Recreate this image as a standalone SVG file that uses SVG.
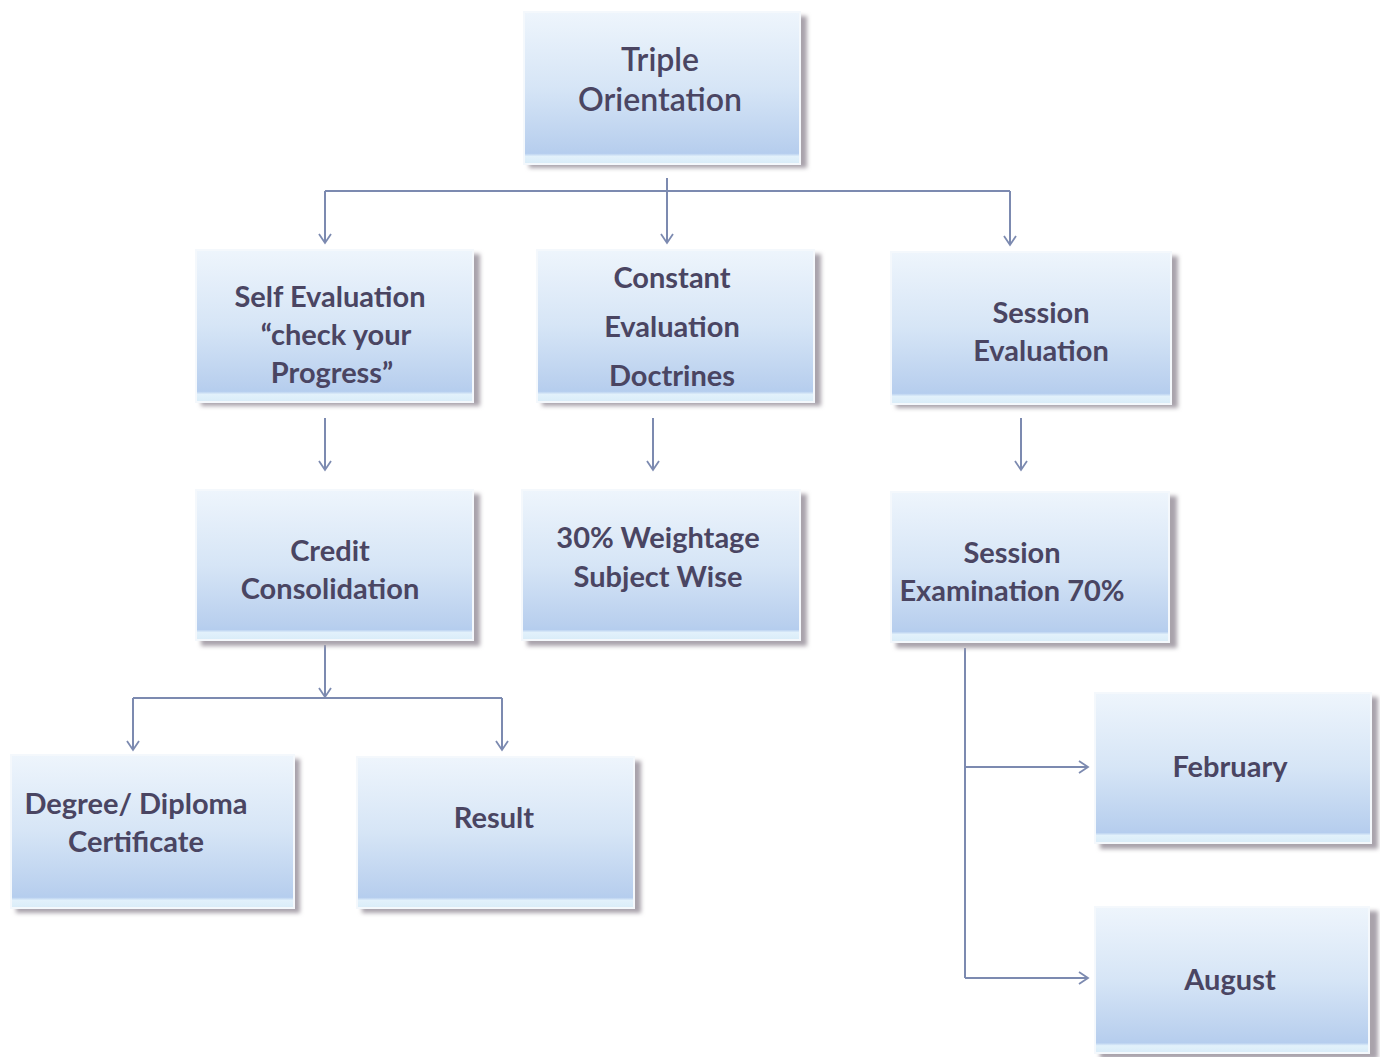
<svg xmlns="http://www.w3.org/2000/svg" width="1380" height="1057" viewBox="0 0 1380 1057">
<style>
.box{fill:url(#g);stroke:#f4f8fc;stroke-width:2}
.sh{fill:#a9a3ab;filter:url(#blur)}
.t{font-family:Lato,"Open Sans","Liberation Sans",sans-serif;font-weight:bold;font-size:29px;fill:#4a4562;text-anchor:middle}
.tt{font-family:Lato,"Open Sans","Liberation Sans",sans-serif;font-weight:600;font-size:32px;fill:#4a4562;text-anchor:middle}
.c{fill:none;stroke:#7c8ab0;stroke-width:2}
</style>
<defs>
<linearGradient id="g" x1="0" y1="0" x2="0" y2="1">
<stop offset="0" stop-color="#eef5fc"/>
<stop offset="0.5" stop-color="#d6e5f6"/>
<stop offset="0.9" stop-color="#b8cfee"/>
<stop offset="0.93" stop-color="#b5cdee"/>
<stop offset="0.95" stop-color="#e2f1fb"/>
<stop offset="1" stop-color="#d9ecf8"/>
</linearGradient>
<filter id="blur" x="-5%" y="-5%" width="110%" height="110%"><feGaussianBlur stdDeviation="2"/></filter>
<marker id="a" markerWidth="14" markerHeight="14" refX="11" refY="7" orient="auto" markerUnits="userSpaceOnUse">
<path d="M2,1 L11,7 L2,13" fill="none" stroke="#7c8ab0" stroke-width="1.8"/>
</marker>
</defs>
<rect width="1380" height="1057" fill="#ffffff"/>
<g id="connectors">
<path class="c" d="M667,178 V243"/>
<path class="c" d="M325,191 H1010"/>
<path class="c" d="M325,191 V243" marker-end="url(#a)"/>
<path class="c" d="M667,191 V243" marker-end="url(#a)"/>
<path class="c" d="M1010,191 V245" marker-end="url(#a)"/>
<path class="c" d="M325,418 V470" marker-end="url(#a)"/>
<path class="c" d="M653,418 V470" marker-end="url(#a)"/>
<path class="c" d="M1021,418 V470" marker-end="url(#a)"/>
<path class="c" d="M325,645 V697" marker-end="url(#a)"/>
<path class="c" d="M133,698 H502"/>
<path class="c" d="M133,698 V750" marker-end="url(#a)"/>
<path class="c" d="M502,698 V750" marker-end="url(#a)"/>
<path class="c" d="M965,648 V978"/>
<path class="c" d="M965,767 H1088" marker-end="url(#a)"/>
<path class="c" d="M965,978 H1088" marker-end="url(#a)"/>
</g>
<g id="n-triple">
<rect class="sh" x="529" y="16" width="278" height="152"/>
<rect class="box" x="524" y="12" width="276" height="152"/>
<text class="tt" x="660" y="71">Triple</text>
<text class="tt" x="660" y="111">Orientation</text>
</g>
<g id="n-self">
<rect class="sh" x="201" y="254" width="279" height="152"/>
<rect class="box" x="196" y="250" width="277" height="152"/>
<text class="t" x="330" y="307">Self Evaluation</text>
<text class="t" x="336" y="345">“check your</text>
<text class="t" x="332" y="383">Progress”</text>
</g>
<g id="n-constant">
<rect class="sh" x="542" y="254" width="279" height="152"/>
<rect class="box" x="537" y="250" width="277" height="152"/>
<text class="t" x="672" y="288">Constant</text>
<text class="t" x="672" y="337">Evaluation</text>
<text class="t" x="672" y="386">Doctrines</text>
</g>
<g id="n-session-eval">
<rect class="sh" x="896" y="256" width="282" height="152"/>
<rect class="box" x="891" y="252" width="280" height="152"/>
<text class="t" x="1041" y="323">Session</text>
<text class="t" x="1041" y="361">Evaluation</text>
</g>
<g id="n-credit">
<rect class="sh" x="201" y="494" width="279" height="152"/>
<rect class="box" x="196" y="490" width="277" height="150"/>
<text class="t" x="330" y="561">Credit</text>
<text class="t" x="330" y="599">Consolidation</text>
</g>
<g id="n-weightage">
<rect class="sh" x="527" y="494" width="280" height="152"/>
<rect class="box" x="522" y="490" width="278" height="150"/>
<text class="t" x="658" y="548">30% Weightage</text>
<text class="t" x="658" y="587">Subject Wise</text>
</g>
<g id="n-session-exam">
<rect class="sh" x="896" y="496" width="281" height="152"/>
<rect class="box" x="891" y="492" width="278" height="150"/>
<text class="t" x="1012" y="563">Session</text>
<text class="t" x="1012" y="601">Examination 70%</text>
</g>
<g id="n-degree">
<rect class="sh" x="16" y="759" width="284" height="154"/>
<rect class="box" x="11" y="755" width="283" height="153"/>
<text class="t" x="136" y="814">Degree/ Diploma</text>
<text class="t" x="136" y="852">Certificate</text>
</g>
<g id="n-result">
<rect class="sh" x="362" y="761" width="279" height="152"/>
<rect class="box" x="357" y="757" width="277" height="151"/>
<text class="t" x="494" y="828">Result</text>
</g>
<g id="n-february">
<rect class="sh" x="1100" y="697" width="278" height="152"/>
<rect class="box" x="1095" y="693" width="276" height="150"/>
<text class="t" x="1230" y="777">February</text>
</g>
<g id="n-august">
<rect class="sh" x="1100" y="911" width="278" height="148"/>
<rect class="box" x="1095" y="907" width="274" height="146"/>
<text class="t" x="1230" y="990">August</text>
</g>
</svg>
